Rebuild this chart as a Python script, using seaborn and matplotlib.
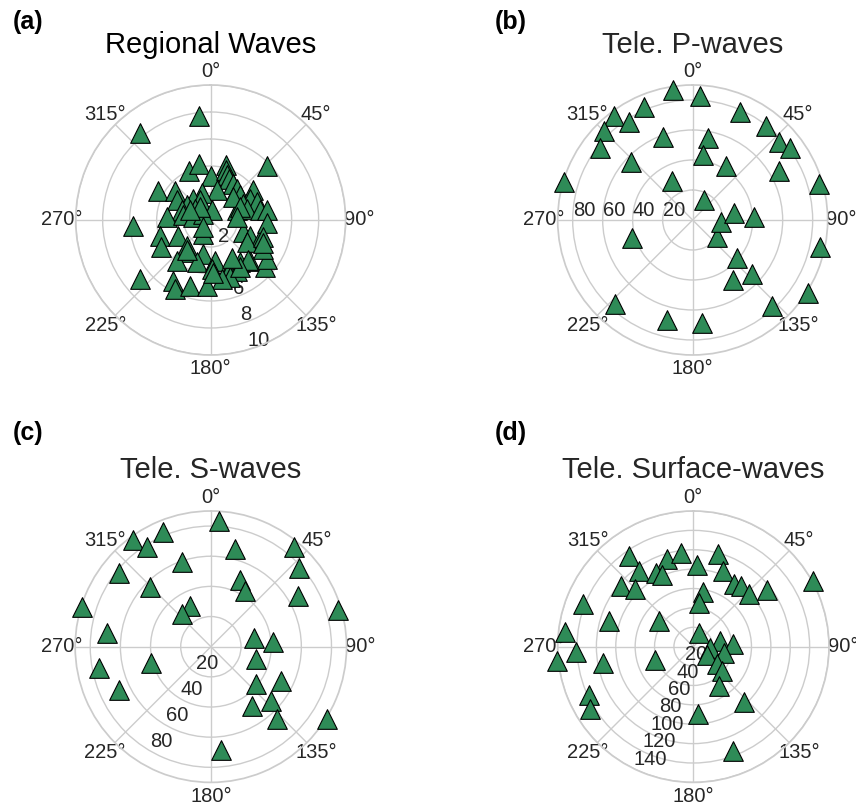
import numpy as np
import matplotlib.pyplot as plt
import seaborn as sns

# station azimuth (deg, clockwise from north) and distance for each wave type
reg_az = [299.0, 308.8, 336.5, 348.6, 0.5, 15.7, 17.2, 20.2, 24.7, 32.0, 39.7,
          46.0, 12.4, 341.8, 300.0, 320.9, 331.5, 301.4, 288.4, 305.9, 5.9,
          49.2, 55.2, 61.5, 68.6, 63.4, 69.6, 72.5, 78.9, 274.0, 279.7, 279.8,
          310.8, 252.8, 241.3, 244.1, 223.1, 207.6, 214.6, 219.9, 192.2, 198.3,
          173.9, 178.8, 158.5, 145.3, 152.8, 136.0, 161.4, 169.4, 211.6, 207.3,
          197.5, 183.5, 131.1, 124.9, 110.7, 111.7, 111.0, 118.8, 121.8, 230.1,
          353.6, 320.9, 265.6, 79.9, 93.4, 107.6, 113.9, 136.7, 147.8, 177.1,
          218.7, 227.7, 321.3, 295.8, 44.2, 65.6, 82.9, 151.0]
reg_dist = [4.43, 3.39, 3.96, 4.26, 3.26, 4.21, 3.85, 3.58, 3.31, 3.17, 3.02,
            5.76, 2.30, 2.13, 2.91, 2.04, 1.66, 2.08, 2.26, 1.43, 0.72,
            2.87, 3.85, 3.31, 3.66, 2.71, 2.05, 2.80, 3.72, 3.22, 2.05, 1.30,
            0.72, 3.93, 4.22, 2.66, 2.60, 1.17, 2.91, 3.93, 2.58, 3.30,
            3.03, 3.63, 3.90, 3.81, 4.22, 4.19, 4.48, 4.45, 5.28, 5.75,
            5.10, 4.87, 5.34, 5.05, 2.59, 3.14, 3.92, 4.45, 3.14, 6.82,
            7.75, 8.30, 5.79, 4.21, 4.16, 4.09, 4.27, 4.07, 4.08, 3.96,
            2.85, 0.73, 1.26, 1.70, 2.41, 2.39, 1.99, 3.25]

p_az = [351.3, 3.4, 336.8, 322.9, 326.9, 315.1, 307.7, 23.6, 38.0, 47.9, 53.6,
        60.4, 74.2, 102.1, 122.4, 137.4, 132.3, 130.6, 146.3, 124.0, 94.8, 80.8,
        87.2, 29.5, 331.9, 313.4, 340.2, 10.9, 8.7, 31.5, 286.6, 253.7, 222.6,
        194.6, 174.7]
p_dist = [87.7, 82.6, 81.7, 86.9, 78.2, 83.8, 78.1, 78.8, 79.5, 77.9, 80.6,
          66.2, 87.5, 86.8, 91.3, 77.8, 53.2, 39.2, 48.1, 19.8, 18.7, 27.9,
          40.9, 15.3, 29.7, 56.6, 59.0, 55.4, 44.1, 42.5, 89.5, 41.9, 76.4,
          68.9, 69.2]

s_az = [3.8, 337.4, 323.8, 327.4, 341.0, 14.1, 39.9, 48.2, 60.0, 73.9, 24.0,
        32.0, 308.5, 314.5, 333.2, 318.4, 287.2, 277.5, 259.3, 244.9, 254.7,
        78.9, 85.7, 105.6, 129.5, 116.1, 145.1, 131.8, 137.6, 121.9, 174.3]
s_dist = [83.5, 82.1, 87.3, 78.4, 59.2, 66.5, 86.0, 78.4, 66.7, 87.9, 48.2,
          43.2, 78.1, 56.7, 30.6, 29.1, 89.3, 69.5, 75.5, 67.5, 41.2,
          29.0, 41.5, 31.4, 39.2, 52.0, 47.7, 53.7, 65.3, 91.1, 69.0]

sw_az = [324.9, 324.7, 310.1, 314.8, 343.4, 332.8, 336.6, 352.4, 2.9, 14.9,
         21.4, 33.0, 37.9, 46.8, 52.6, 61.2, 9.8, 8.0, 291.3, 287.1, 306.3,
         276.3, 267.5, 264.1, 259.6, 251.0, 245.4, 238.8, 23.7, 78.4, 85.6,
         95.9, 122.0, 102.5, 126.0, 130.3, 146.9, 176.3, 137.6, 159.2]
sw_dist = [114.8, 96.3, 97.8, 84.4, 94.8, 85.2, 80.7, 97.6, 83.9, 99.0,
           84.0, 76.7, 79.3, 78.7, 96.3, 140.9, 57.2, 45.0, 122.5, 91.0, 44.0,
           133.7, 121.2, 141.6, 94.8, 41.6, 118.6, 124.1, 15.6, 27.7, 41.2,
           16.8, 16.4, 32.1, 30.1, 38.7, 47.8, 69.7, 77.3, 114.6]

titles = ["Regional Waves", "Tele. P-waves", "Tele. S-waves", "Tele. Surface-waves"]
letters = ["(a)", "(b)", "(c)", "(d)"]

sns.set_theme(style="whitegrid")
plt.rcParams["font.family"] = ["Liberation Sans", "DejaVu Sans"]

fig = plt.figure(figsize=(8.56, 8.07), dpi=100)

panels = [
    (reg_az, reg_dist, [0.0884, 0.5601, 0.3154, 0.3346], 10, [2, 4, 6, 8, 10], 164),
    (p_az, p_dist, [0.6515, 0.5601, 0.3154, 0.3346], 90, [20, 40, 60, 80], 270),
    (s_az, s_dist, [0.0878, 0.0305, 0.3171, 0.3363], 90, [20, 40, 60, 80], 210),
    (sw_az, sw_dist, [0.6514, 0.0305, 0.3171, 0.3363], 140,
     [20, 40, 60, 80, 100, 120, 140], 206),
]
letter_pos = [(0.015, 0.973), (0.578, 0.973), (0.015, 0.463), (0.578, 0.463)]

for i, (az, dist, pos, rmax, rticks, rlab) in enumerate(panels):
    ax = fig.add_axes(pos, projection="polar")
    sns.scatterplot(x=np.deg2rad(az), y=dist, ax=ax, marker="^", s=200,
                    color="#2e8b57", edgecolor="black", linewidth=0.8,
                    clip_on=False, zorder=3)
    ax.set_theta_zero_location("N")
    ax.set_theta_direction(-1)
    ax.set_ylim(0, rmax)
    ax.set_yticks(rticks)
    ax.set_rlabel_position(rlab)
    ax.tick_params(axis="x", labelsize=14.5, pad=3, length=0)
    ax.tick_params(axis="y", labelsize=14.5)
    ax.set_xlabel("")
    ax.set_ylabel("")
    ax.set_title(titles[i], fontsize=21, y=1.12, pad=0,
                 color="black" if i == 0 else ".15")
    fig.text(letter_pos[i][0], letter_pos[i][1], letters[i], fontsize=18,
             fontweight="bold", ha="left", va="center", color="black")

fig.savefig("out.png", dpi=100)
